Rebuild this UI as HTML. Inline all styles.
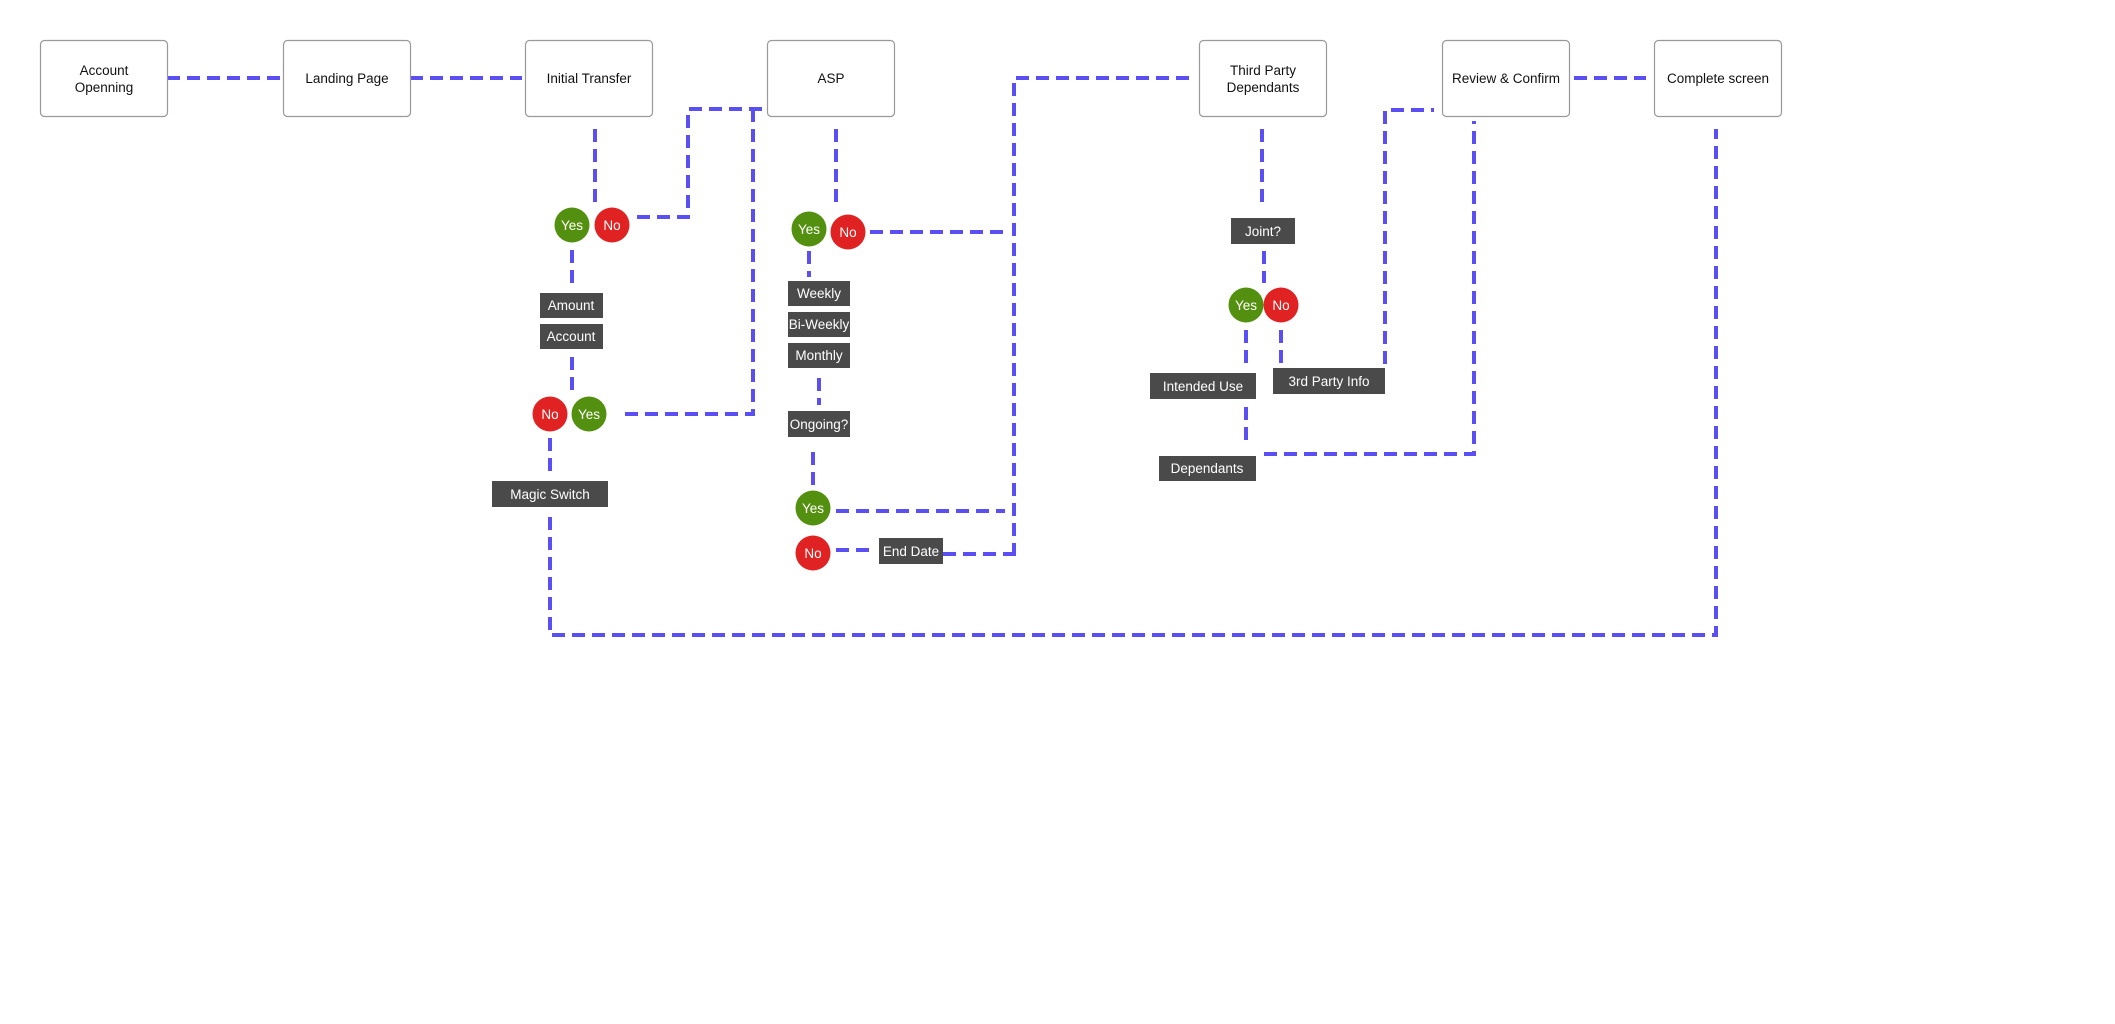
<!DOCTYPE html>
<html><head><meta charset="utf-8"><style>
html,body{margin:0;padding:0;background:#fff;}
svg{display:block;}
text{font-family:"Liberation Sans",sans-serif;}
</style></head><body>
<svg width="2115" height="1024" viewBox="0 0 2115 1024" xmlns="http://www.w3.org/2000/svg">
<g fill="none" stroke="#5a4ff3" stroke-width="4" stroke-dasharray="13,7">
<path d="M167 78H280"/><path d="M410 78H522"/>
<path d="M595 129V202"/>
<path d="M637 217H688V109H763"/>
<path d="M753 109V414H619"/>
<path d="M572 250V283"/>
<path d="M572 357V391"/>
<path d="M550 438V475"/>
<path d="M550 517V635H1716V129"/>
<path d="M836 129V202"/>
<path d="M870 232H1009"/>
<path d="M1014 556V78H1194"/>
<path d="M809 251V277"/>
<path d="M819 378V405"/>
<path d="M813 452V486"/>
<path d="M836 511H1005"/>
<path d="M836 550H874"/>
<path d="M943 554H1014"/>
<path d="M1262 129V202"/>
<path d="M1264 251V283"/>
<path d="M1246 330V364"/>
<path d="M1281 330V364"/>
<path d="M1385 364V110H1434"/>
<path d="M1246 407V442"/>
<path d="M1264 454H1474V121"/>
<path d="M1574 78H1646"/>
</g>
<g fill="#fff" stroke="#999" stroke-width="1.2">
<rect x="40.5" y="40.5" width="127" height="76" rx="4"/>
<rect x="283.5" y="40.5" width="127" height="76" rx="4"/>
<rect x="525.5" y="40.5" width="127" height="76" rx="4"/>
<rect x="767.5" y="40.5" width="127" height="76" rx="4"/>
<rect x="1199.5" y="40.5" width="127" height="76" rx="4"/>
<rect x="1442.5" y="40.5" width="127" height="76" rx="4"/>
<rect x="1654.5" y="40.5" width="127" height="76" rx="4"/>
</g>
<g font-size="13.5" fill="#111" text-anchor="middle">
<text x="104" y="75">Account</text><text x="104" y="92">Openning</text>
<text x="347" y="83">Landing Page</text>
<text x="589" y="83">Initial Transfer</text>
<text x="831" y="83">ASP</text>
<text x="1263" y="75">Third Party</text><text x="1263" y="92">Dependants</text>
<text x="1506" y="83">Review &amp; Confirm</text>
<text x="1718" y="83">Complete screen</text>
</g>
<g fill="#4a4a4a">
<rect x="540" y="293" width="63" height="25"/>
<rect x="540" y="324" width="63" height="25"/>
<rect x="492" y="481" width="116" height="26"/>
<rect x="788" y="281" width="62" height="25"/>
<rect x="788" y="312" width="62" height="25"/>
<rect x="788" y="343" width="62" height="25"/>
<rect x="788" y="411" width="62" height="26"/>
<rect x="879" y="538" width="64" height="26"/>
<rect x="1231" y="218" width="64" height="26"/>
<rect x="1150" y="373" width="106" height="26"/>
<rect x="1273" y="368" width="112" height="26"/>
<rect x="1159" y="456" width="97" height="25"/>
</g>
<g font-size="13.5" fill="#fff" text-anchor="middle">
<text x="571" y="310">Amount</text>
<text x="571" y="341">Account</text>
<text x="550" y="499">Magic Switch</text>
<text x="819" y="298">Weekly</text>
<text x="819" y="329">Bi-Weekly</text>
<text x="819" y="360">Monthly</text>
<text x="819" y="429">Ongoing?</text>
<text x="911" y="556">End Date</text>
<text x="1263" y="236">Joint?</text>
<text x="1203" y="391">Intended Use</text>
<text x="1329" y="386">3rd Party Info</text>
<text x="1207" y="473">Dependants</text>
</g>
<g>
<circle cx="572" cy="225" r="17.5" fill="#54900f"/><circle cx="612" cy="225" r="17.5" fill="#e02222"/>
<circle cx="550" cy="414" r="17.5" fill="#e02222"/><circle cx="589" cy="414" r="17.5" fill="#54900f"/>
<circle cx="809" cy="229" r="17.5" fill="#54900f"/><circle cx="848" cy="232" r="17.5" fill="#e02222"/>
<circle cx="813" cy="508" r="17.5" fill="#54900f"/><circle cx="813" cy="553" r="17.5" fill="#e02222"/>
<circle cx="1246" cy="305" r="17.5" fill="#54900f"/><circle cx="1281" cy="305" r="17.5" fill="#e02222"/>
</g>
<g font-size="13.5" fill="#fff" text-anchor="middle">
<text x="572" y="230">Yes</text><text x="612" y="230">No</text>
<text x="550" y="419">No</text><text x="589" y="419">Yes</text>
<text x="809" y="234">Yes</text><text x="848" y="237">No</text>
<text x="813" y="513">Yes</text><text x="813" y="558">No</text>
<text x="1246" y="310">Yes</text><text x="1281" y="310">No</text>
</g>
</svg>
</body></html>
